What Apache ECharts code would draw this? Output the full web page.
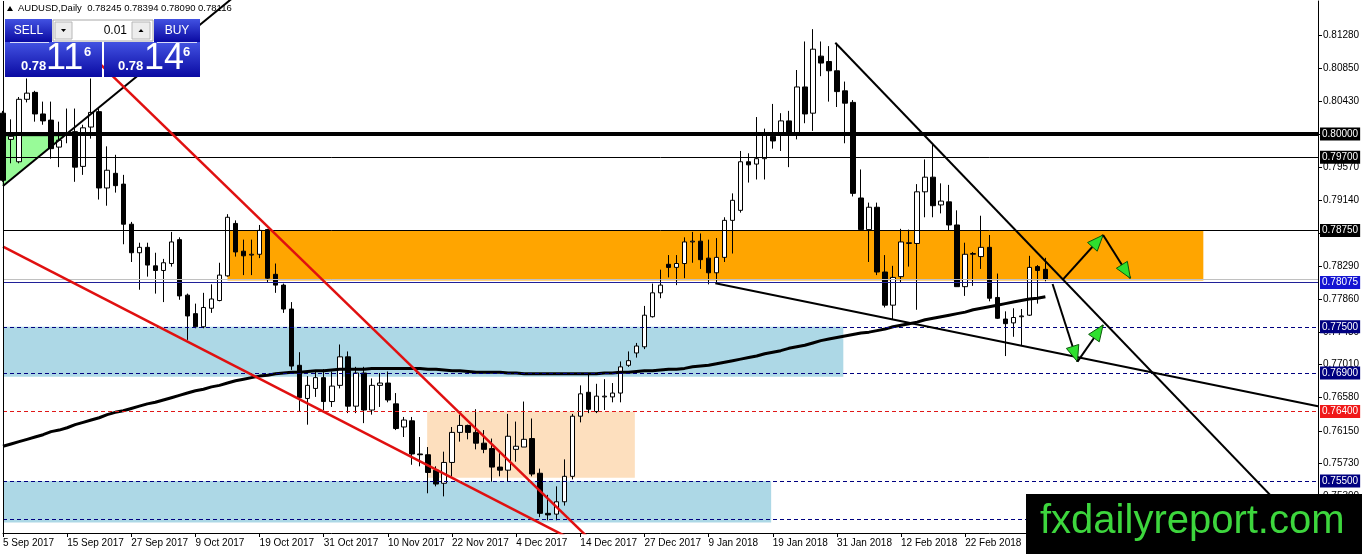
<!DOCTYPE html>
<html><head><meta charset="utf-8">
<script src="https://cdn.jsdelivr.net/npm/echarts@6/dist/echarts.min.js"></script>
<style>html,body{margin:0;padding:0;background:#fff}#c{width:1362px;height:554px}</style>
</head><body><div id="c"></div>
<script>
// ---- data ----
// daily candles [open, close, low, high], from 5 Sep 2017
const candles = [
[0.8027,0.7940,0.7938,0.8030],[0.7993,0.7997,0.7962,0.8019],[0.7964,0.8045,0.7962,0.8048],[0.8045,0.8053,0.8041,0.8072],
[0.8054,0.8026,0.8016,0.8056],[0.8026,0.8017,0.8012,0.8042],[0.8018,0.7981,0.7968,0.8042],[0.7983,0.7992,0.7957,0.8016],
[0.8000,0.8001,0.7988,0.8033],[0.8003,0.7957,0.7938,0.8033],[0.7958,0.8008,0.7947,0.8012],[0.8009,0.8028,0.7994,0.8072],
[0.8029,0.7930,0.7915,0.8033],[0.7930,0.7953,0.7907,0.7984],[0.7949,0.7933,0.7924,0.7973],[0.7935,0.7883,0.7857,0.7947],
[0.7883,0.7846,0.7834,0.7886],[0.7846,0.7853,0.7798,0.7859],[0.7853,0.7830,0.7815,0.7859],[0.7829,0.7823,0.7793,0.7846],
[0.7823,0.7833,0.7782,0.7838],[0.7832,0.7860,0.7828,0.7873],[0.7863,0.7790,0.7785,0.7866],[0.7791,0.7764,0.7733,0.7793],
[0.7767,0.7750,0.7748,0.7780],[0.7750,0.7775,0.7748,0.7794],[0.7774,0.7786,0.7768,0.7805],[0.7784,0.7817,0.7783,0.7833],
[0.7816,0.7892,0.7815,0.7896],[0.7884,0.7847,0.7841,0.7888],[0.7848,0.7842,0.7817,0.7863],[0.7843,0.7844,0.7817,0.7863],
[0.7844,0.7875,0.7839,0.7882],[0.7876,0.7813,0.7807,0.7877],[0.7818,0.7804,0.7794,0.7832],[0.7804,0.7773,0.7768,0.7806],
[0.7773,0.7699,0.7694,0.7782],[0.7700,0.7658,0.7640,0.7717],[0.7657,0.7674,0.7623,0.7686],[0.7670,0.7684,0.7659,0.7692],
[0.7684,0.7653,0.7642,0.7695],[0.7653,0.7673,0.7646,0.7692],[0.7674,0.7711,0.7670,0.7727],[0.7711,0.7647,0.7638,0.7718],
[0.7647,0.7690,0.7638,0.7698],[0.7690,0.7642,0.7625,0.7698],[0.7642,0.7674,0.7636,0.7683],[0.7674,0.7677,0.7646,0.7690],
[0.7677,0.7655,0.7652,0.7692],[0.7650,0.7618,0.7616,0.7664],[0.7620,0.7629,0.7607,0.7633],[0.7628,0.7585,0.7571,0.7633],
[0.7585,0.7584,0.7569,0.7607],[0.7584,0.7561,0.7534,0.7594],[0.7564,0.7546,0.7543,0.7569],[0.7547,0.7574,0.7530,0.7588],
[0.7574,0.7613,0.7556,0.7620],[0.7613,0.7622,0.7601,0.7636],[0.7622,0.7613,0.7604,0.7623],[0.7613,0.7599,0.7591,0.7643],
[0.7599,0.7591,0.7586,0.7616],[0.7592,0.7568,0.7549,0.7605],[0.7568,0.7564,0.7556,0.7586],[0.7564,0.7608,0.7549,0.7637],
[0.7591,0.7595,0.7575,0.7627],[0.7594,0.7604,0.7594,0.7653],[0.7605,0.7559,0.7556,0.7631],[0.7560,0.7508,0.7503,0.7566],
[0.7508,0.7506,0.7499,0.7532],[0.7507,0.7523,0.7499,0.7543],[0.7523,0.7556,0.7518,0.7578],[0.7556,0.7634,0.7552,0.7637],
[0.7634,0.7663,0.7626,0.7674],[0.7665,0.7643,0.7638,0.7690],[0.7640,0.7660,0.7638,0.7676],[0.7659,0.7660,0.7642,0.7682],
[0.7659,0.7664,0.7652,0.7677],[0.7664,0.7698,0.7652,0.7705],[0.7700,0.7706,0.7698,0.7718],[0.7716,0.7725,0.7710,0.7729],
[0.7724,0.7765,0.7721,0.7777],[0.7763,0.7794,0.7762,0.7806],[0.7794,0.7804,0.7787,0.7824],[0.7831,0.7827,0.7814,0.7843],
[0.7827,0.7832,0.7804,0.7843],[0.7832,0.7860,0.7813,0.7866],[0.7860,0.7861,0.7833,0.7873],[0.7861,0.7837,0.7825,0.7871],
[0.7839,0.7820,0.7805,0.7863],[0.7820,0.7840,0.7806,0.7865],[0.7840,0.7888,0.7834,0.7892],[0.7888,0.7914,0.7845,0.7923],
[0.7901,0.7964,0.7898,0.7978],[0.7964,0.7960,0.7937,0.7975],[0.7961,0.7968,0.7941,0.8022],[0.7968,0.7999,0.7941,0.8007],
[0.7997,0.7991,0.7981,0.8039],[0.7999,0.8017,0.7978,0.8027],[0.8017,0.7999,0.7957,0.8030],[0.7999,0.8061,0.7993,0.8083],
[0.8061,0.8026,0.8014,0.8120],[0.8027,0.8110,0.8004,0.8136],[0.8101,0.8092,0.8075,0.8120],[0.8094,0.8082,0.8042,0.8114],
[0.8082,0.8055,0.8035,0.8118],[0.8056,0.8040,0.7988,0.8068],[0.8041,0.7923,0.7919,0.8044],[0.7917,0.7876,0.7875,0.7954],
[0.7876,0.7905,0.7834,0.7911],[0.7905,0.7821,0.7817,0.7911],[0.7821,0.7778,0.7775,0.7843],[0.7778,0.7814,0.7759,0.7829],
[0.7815,0.7860,0.7808,0.7877],[0.7858,0.7859,0.7828,0.7876],[0.7858,0.7925,0.7772,0.7935],[0.7925,0.7944,0.7892,0.7967],
[0.7944,0.7907,0.7892,0.7986],[0.7908,0.7913,0.7897,0.7936],[0.7912,0.7882,0.7875,0.7934],[0.7882,0.7802,0.7802,0.7901],
[0.7802,0.7844,0.7790,0.7859],[0.7844,0.7845,0.7803,0.7847],[0.7841,0.7853,0.7825,0.7894],[0.7853,0.7787,0.7783,0.7869],
[0.7788,0.7761,0.7760,0.7819],[0.7760,0.7754,0.7712,0.7770],[0.7755,0.7762,0.7737,0.7774],[0.7763,0.7764,0.7726,0.7773],
[0.7765,0.7827,0.7764,0.7842],[0.7828,0.7823,0.7780,0.7830],[0.78245,0.78116,0.78090,0.78394]
];
// long moving average (thick black curve)
const ma200 = [
0.7595,0.7598,0.7601,0.7604,0.7607,0.7610,0.7614,0.7616,0.7619,0.7623,0.7626,0.7629,0.7632,0.7636,0.7639,0.7641,
0.7644,0.7647,0.7650,0.7652,0.7655,0.7658,0.7661,0.7664,0.7667,0.7669,0.7672,0.7674,0.7677,0.7680,0.7682,0.7684,
0.7686,0.7687,0.7689,0.7690,0.7691,0.7691,0.7692,0.7693,0.7693,0.7694,0.7695,0.7695,0.7695,0.7695,0.7696,0.7696,
0.7696,0.7696,0.7696,0.7696,0.7696,0.7695,0.7695,0.7694,0.7693,0.7693,0.7692,0.7691,0.7691,0.7691,0.7691,0.7690,
0.7690,0.7689,0.7689,0.7689,0.7689,0.7689,0.7689,0.7689,0.7689,0.7689,0.7689,0.7690,0.7690,0.7691,0.7691,0.7692,
0.7693,0.7693,0.7694,0.7695,0.7695,0.7696,0.7698,0.7699,0.7700,0.7702,0.7704,0.7706,0.7708,0.7710,0.7712,0.7715,
0.7717,0.7719,0.7722,0.7724,0.7726,0.7729,0.7732,0.7734,0.7736,0.7738,0.7740,0.7742,0.7743,0.7745,0.7747,0.7750,
0.7752,0.7754,0.7756,0.7759,0.7761,0.7763,0.7765,0.7767,0.7769,0.7772,0.7774,0.7776,0.7778,0.7780,0.7782,0.7784,
0.7786,0.7787,0.7789
];
const slotCount = 165;
const xTickLabels = ['5 Sep 2017','15 Sep 2017','27 Sep 2017','9 Oct 2017','19 Oct 2017','31 Oct 2017','10 Nov 2017',
  '22 Nov 2017','4 Dec 2017','14 Dec 2017','27 Dec 2017','9 Jan 2018','19 Jan 2018','31 Jan 2018','12 Feb 2018','22 Feb 2018'];
const yTickValues = [0.8128,0.8085,0.8043,0.8000,0.7957,0.7914,0.7871,0.7829,0.7786,0.7743,0.7701,0.7658,0.7615,0.7573,0.7530,0.7488];
const yMin = 0.74825, yMax = 0.81725;
// horizontal levels
const levelPrices = [0.8000, 0.7970, 0.7875, 0.78116, 0.78075, 0.7750, 0.7690, 0.7640, 0.7550, 0.7500];
// zones [slotFrom, slotTo, priceTop, priceBottom]
const blueZoneUpper = [0, 104.8, 0.7750, 0.7685];
const blueZoneLower = [0, 95.8, 0.7550, 0.7496];
const peachZone = [52.9, 78.8, 0.7640, 0.7554];
const orangeZone = [28.0, 149.7, 0.7875, 0.7810];
const greenTriangle = [[0, 0.7997], [7.6, 0.7997], [0, 0.7933]];
// trend lines [slot, price]
const blackUpLine = [[0, 0.79326], [30, 0.8188]];
const redSteepLine = [[12.1, 0.8091], [75, 0.7456]];
const redShallowLine = [[0, 0.78538], [70, 0.74791]];
const blackResistance = [[103.8, 0.81184], [164, 0.74673]];
const blackSupport = [[88.84, 0.78064], [164, 0.76469]];
// arrows [slotFrom, priceFrom, slotTo, priceTo]
const arrows = [
  [132.2, 0.78115, 137.2, 0.78690],
  [137.2, 0.78690, 140.6, 0.78128],
  [130.9, 0.78055, 134.0, 0.77047],
  [134.0, 0.77047, 137.2, 0.77523]
];

// ---- styles ----
const FONT = '"Liberation Sans", Arial, sans-serif';
const levelStyles = [
  {line:{color:'#000', width:4, type:'solid'}, bg:'#000', label:true},
  {line:{color:'#000', width:1, type:'solid'}, bg:'#000', label:true},
  {line:{color:'#000', width:1, type:'solid'}, bg:'#000', label:true},
  {line:{color:'#c0c0c0', width:1, type:'solid'}, bg:'#c0c0c0', label:false},
  {line:{color:'#202098', width:1, type:'solid'}, bg:'#1414d2', label:true},
  {line:{color:'#000080', width:1, type:[4,3]}, bg:'#000080', label:true},
  {line:{color:'#000080', width:1, type:[4,3]}, bg:'#000080', label:true},
  {line:{color:'#e01818', width:1, type:[4,3]}, bg:'#f01818', label:true},
  {line:{color:'#000080', width:1, type:[4,3]}, bg:'#000080', label:true},
  {line:{color:'#000080', width:1, type:[4,3]}, bg:'#000080', label:true}
];
const zones = [blueZoneUpper, blueZoneLower, peachZone, orangeZone];
const zoneColors = ['#add8e6', '#add8e6', '#fddfbe', '#ffa500'];

const chart = echarts.init(document.getElementById('c'), null, {renderer:'canvas'});
const cats = Array.from({length: slotCount}, (_, i) => String(i));
const last = candles[candles.length - 1];
const headerText = 'AUDUSD,Daily  ' + [last[0], last[3], last[2], last[1]].map(v => v.toFixed(5)).join(' ');
const grad = () => new echarts.graphic.LinearGradient(0, 0, 0, 1, [{offset:0, color:'#4252e2'}, {offset:1, color:'#0a0aa2'}]);

const option = {
  animation: false,
  backgroundColor: '#fff',
  grid: {left: 3, right: 44, top: 1, bottom: 21, containLabel: false, outerBoundsMode: 'none'},
  xAxis: [
    {type:'category', data: cats, boundaryGap: false, gridIndex: 0,
     axisLine:{show:true, onZero:false, lineStyle:{color:'#000', width:1}},
     axisTick:{show:true, interval:(i)=> i % 8 === 0, length:4, lineStyle:{color:'#000'}},
     axisLabel:{show:true, interval:(i)=> i % 8 === 0 && (i/8) < xTickLabels.length,
       formatter:(v, i)=> xTickLabels[i/8] || '', align:'left', margin:5, color:'#000', fontSize:10, fontFamily:FONT, hideOverlap:false},
     splitLine:{show:false}},
    {type:'value', min:0, max:slotCount-1, show:false, gridIndex:0,
     axisLine:{show:false, onZero:false}, axisTick:{show:false}, axisLabel:{show:false}, splitLine:{show:false}}
  ],
  yAxis: [
    {type:'value', position:'right', min:yMin, max:yMax, scale:true,
     axisLine:{show:true, onZero:false, lineStyle:{color:'#000', width:1}},
     axisTick:{show:true, inside:false, customValues:yTickValues, length:4, lineStyle:{color:'#000'}},
     axisLabel:{show:true, customValues:yTickValues, formatter:(v)=> v.toFixed(5), color:'#000', fontSize:10, fontFamily:FONT, margin:5},
     minorTick:{show:false}, splitLine:{show:false}}
  ],
  series: [
    {type:'custom', name:'zones', xAxisIndex:1, yAxisIndex:0, z:1, silent:true, data: zones,
     renderItem:(params, api) => {
       const a = api.coord([api.value(0), api.value(2)]);
       const b = api.coord([api.value(1), api.value(3)]);
       return {type:'rect', shape:{x:a[0], y:a[1], width:b[0]-a[0], height:b[1]-a[1]}, style:{fill: zoneColors[params.dataIndex]}};
     }},
    {type:'custom', name:'triangle', xAxisIndex:1, yAxisIndex:0, z:1, silent:true, data:[[0]],
     renderItem:(params, api) => ({type:'polygon', shape:{points: greenTriangle.map(p => api.coord(p))},
       style:{fill:'#98fb98', stroke:'#6cc46c', lineWidth:1}})},
    {type:'candlestick', name:'AUDUSD', xAxisIndex:0, yAxisIndex:0, z:2, data: candles, barWidth:5,
     itemStyle:{color:'#fff', color0:'#000', borderColor:'#000', borderColor0:'#000', borderWidth:1}},
    {type:'line', name:'levels', xAxisIndex:1, yAxisIndex:0, z:3, data:[], clip:false, silent:true,
     markLine:{symbol:'none', silent:true, animation:false, precision:5,
       data: levelPrices.map((p, i) => ({yAxis:p, lineStyle: levelStyles[i].line,
         label:{show: levelStyles[i].label, position:'end', distance:2, formatter:()=> p.toFixed(5),
           color:'#fff', backgroundColor: levelStyles[i].bg, padding:[2,2,1,2], fontSize:10, fontFamily:FONT}}))}},
    {type:'line', name:'MA', xAxisIndex:0, yAxisIndex:0, z:4, data: ma200, symbol:'none', silent:true,
     lineStyle:{color:'#000', width:3}},
    {type:'line', xAxisIndex:1, yAxisIndex:0, z:5, data: blackUpLine, symbol:'none', silent:true, lineStyle:{color:'#000', width:2}},
    {type:'line', xAxisIndex:1, yAxisIndex:0, z:5, data: redSteepLine, symbol:'none', silent:true, lineStyle:{color:'#e01010', width:2.5}},
    {type:'line', xAxisIndex:1, yAxisIndex:0, z:5, data: redShallowLine, symbol:'none', silent:true, lineStyle:{color:'#e01010', width:2.5}},
    {type:'line', xAxisIndex:1, yAxisIndex:0, z:5, data: blackResistance, symbol:'none', silent:true, lineStyle:{color:'#000', width:2}},
    {type:'line', xAxisIndex:1, yAxisIndex:0, z:5, data: blackSupport, symbol:'none', silent:true, lineStyle:{color:'#000', width:2}},
    {type:'custom', name:'arrows', xAxisIndex:1, yAxisIndex:0, z:6, silent:true, data: arrows,
     renderItem:(params, api) => {
       const a = api.coord([api.value(0), api.value(1)]);
       const b = api.coord([api.value(2), api.value(3)]);
       const dx = b[0]-a[0], dy = b[1]-a[1], len = Math.hypot(dx, dy);
       const ux = dx/len, uy = dy/len, nx = -uy, ny = ux;
       const L = 16, W = 6.5;
       const bx = b[0]-ux*L, by = b[1]-uy*L;
       return {type:'group', children:[
         {type:'line', shape:{x1:a[0], y1:a[1], x2:b[0], y2:b[1]}, style:{stroke:'#000', lineWidth:2}},
         {type:'polygon', shape:{points:[[b[0],b[1]],[bx+nx*W, by+ny*W],[bx-nx*W, by-ny*W]]},
          style:{fill:'#2ee02e', stroke:'#0b5a0b', lineWidth:1}}
       ]};
     }}
  ],
  graphic: [
    // left frame line of the chart window
    {type:'line', z:50, shape:{x1:3.5, y1:1, x2:3.5, y2:533}, style:{stroke:'#000', lineWidth:1}},
    {type:'polygon', z:100, shape:{points:[[7,11],[13,11],[10,6]]}, style:{fill:'#000'}},
    {type:'text', z:100, x:18, y:3, style:{text: headerText, font:'9.5px ' + FONT, fill:'#000'}},
    // trading widget
    {type:'rect', z:100, shape:{x:5, y:19, width:47, height:23}, style:{fill:grad()}},
    {type:'text', z:101, x:28.5, y:30.5, style:{text:'SELL', font:'12px ' + FONT, fill:'#fff', align:'center', verticalAlign:'middle'}},
    {type:'rect', z:100, shape:{x:53, y:20, width:100, height:21}, style:{fill:'#fff', stroke:'#a8a8a8', lineWidth:1}},
    {type:'rect', z:101, shape:{x:55, y:22, width:17, height:17}, style:{fill:'#ededed', stroke:'#b8b8b8', lineWidth:1}},
    {type:'polygon', z:102, shape:{points:[[61,29],[66,29],[63.5,32]]}, style:{fill:'#000'}},
    {type:'text', z:101, x:127, y:30.5, style:{text:'0.01', font:'12px ' + FONT, fill:'#000', align:'right', verticalAlign:'middle'}},
    {type:'rect', z:101, shape:{x:132, y:22, width:18, height:17}, style:{fill:'#ededed', stroke:'#b8b8b8', lineWidth:1}},
    {type:'polygon', z:102, shape:{points:[[138.5,32],[143.5,32],[141,29]]}, style:{fill:'#000'}},
    {type:'rect', z:100, shape:{x:154, y:19, width:46, height:23}, style:{fill:grad()}},
    {type:'text', z:101, x:177, y:30.5, style:{text:'BUY', font:'12px ' + FONT, fill:'#fff', align:'center', verticalAlign:'middle'}},
    {type:'rect', z:100, shape:{x:5, y:42, width:97, height:35}, style:{fill:grad()}},
    {type:'rect', z:100, shape:{x:104, y:42, width:96, height:35}, style:{fill:grad()}},
    {type:'line', z:101, shape:{x1:10, y1:42.5, x2:49, y2:42.5}, style:{stroke:'#ffffff', lineWidth:1, opacity:0.8}},
    {type:'line', z:101, shape:{x1:157, y1:42.5, x2:197, y2:42.5}, style:{stroke:'#ffffff', lineWidth:1, opacity:0.8}},
    {type:'text', z:101, x:21, y:66, style:{text:'0.78', font:'bold 13px ' + FONT, fill:'#fff', verticalAlign:'middle'}},
    {type:'text', z:101, x:46, y:59, style:{text:'11', font:'36px ' + FONT, fill:'#fff', verticalAlign:'middle'}},
    {type:'text', z:101, x:84, y:52, style:{text:'6', font:'bold 13px ' + FONT, fill:'#fff', verticalAlign:'middle'}},
    {type:'text', z:101, x:118, y:66, style:{text:'0.78', font:'bold 13px ' + FONT, fill:'#fff', verticalAlign:'middle'}},
    {type:'text', z:101, x:144, y:59, style:{text:'14', font:'36px ' + FONT, fill:'#fff', verticalAlign:'middle'}},
    {type:'text', z:101, x:183, y:52, style:{text:'6', font:'bold 13px ' + FONT, fill:'#fff', verticalAlign:'middle'}},
    // watermark
    {type:'rect', z:110, shape:{x:1026, y:494, width:336, height:60}, style:{fill:'#000'}},
    {type:'text', z:111, x:1040, y:522, style:{text:'fxdailyreport.com', font:'40px ' + FONT, fill:'#3dd63d', verticalAlign:'middle'}}
  ]
};
chart.setOption(option);
</script>
</body></html>
